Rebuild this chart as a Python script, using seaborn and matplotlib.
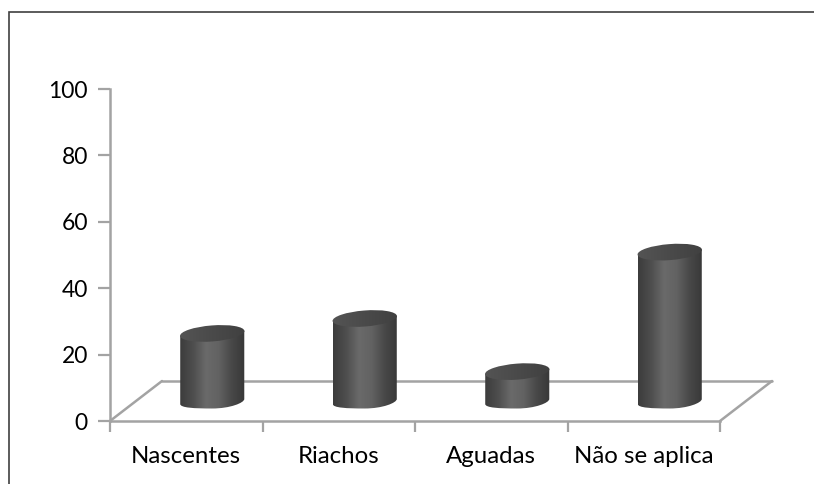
import numpy as np
import pandas as pd
import seaborn as sns
import matplotlib
matplotlib.use('Agg')
import matplotlib.pyplot as plt
from matplotlib.lines import Line2D
from matplotlib.patches import Ellipse, PathPatch, Rectangle
from matplotlib.path import Path
from matplotlib.colors import LinearSegmentedColormap
from matplotlib.transforms import IdentityTransform

categories = ['Nascentes', 'Riachos', 'Aguadas', 'Não se aplica']
values = [20.5, 25, 9, 45]
y_ticks = [0, 20, 40, 60, 80, 100]

W, H = 814, 484
GREY = '#a3a3a3'
# pixel box of the front plane of the fake 3d chart
LEFT, RIGHT, BOTTOM, TOP = 110, 720, 421, 89
DEPTH_X, DEPTH_Y = 52, 40

sns.set_theme(style='white')
plt.rcParams['font.family'] = ['Lato', 'DejaVu Sans']

fig = plt.figure(figsize=(W / 100, H / 100), dpi=100)

def box(dx=0, dy=0):
    return [(LEFT + dx) / W, (H - BOTTOM - dy) / H, (RIGHT - LEFT) / W, (BOTTOM - TOP) / H]

ax = fig.add_axes(box())
ax.patch.set_alpha(0)
df = pd.DataFrame({'cat': categories, 'val': values})

# front plane only carries the axis
ax.set_xlim(-0.5, 3.5)
ax.set_ylim(0, 100)
ax.set_yticks(y_ticks)
ax.set_xticks(np.arange(-0.5, 4, 1))
ax.set_xticklabels([])
ax.tick_params(axis='both', length=9, width=1.6, color=GREY, labelsize=16.5, labelcolor='black', pad=7)
ax.tick_params(axis='x', direction='out', length=8, bottom=True)
ax.tick_params(axis='y', left=True)
for s in ['top', 'right']:
    ax.spines[s].set_visible(False)
for s in ['left', 'bottom']:
    ax.spines[s].set_color(GREY)
    ax.spines[s].set_linewidth(1.8)
for i, c in enumerate(categories):
    ax.text(i, -0.107, c, ha='center', va='center', fontsize=17.3, color='black',
            transform=ax.get_xaxis_transform())

# floor of the 3d box
for xs, ys in [((LEFT, LEFT + DEPTH_X), (H - BOTTOM, H - BOTTOM + DEPTH_Y)),
               ((LEFT + DEPTH_X, RIGHT + DEPTH_X), (H - BOTTOM + DEPTH_Y, H - BOTTOM + DEPTH_Y)),
               ((RIGHT + DEPTH_X, RIGHT), (H - BOTTOM + DEPTH_Y, H - BOTTOM))]:
    fig.add_artist(Line2D([x / W for x in xs], [y / H for y in ys], color=GREY, lw=1.8, zorder=1))

# outer frame
fig.add_artist(Rectangle((8.5 / W, -0.01), 1.0, (H - 12.5) / H + 0.01, fill=False,
                         edgecolor='#404040', lw=1.2, zorder=0))

# cylinders stand half way into the depth of the box
ax2 = fig.add_axes(box(DEPTH_X / 2, -DEPTH_Y / 2 + 0.5), zorder=5)
ax2.patch.set_alpha(0)
sns.barplot(data=df, x='cat', y='val', ax=ax2, width=0.42, color='#555555', legend=False)
ax2.set_xlim(-0.5, 3.5)
ax2.set_ylim(0, 100)
ax2.axis('off')

side = LinearSegmentedColormap.from_list('side', ['#3c3c3c', '#4e4e4e', '#6a6a6a', '#626262', '#484848', '#383838'])
lid = LinearSegmentedColormap.from_list('lid', ['#545454', '#4a4a4a', '#404040'])
grad = np.linspace(0, 1, 128).reshape(1, -1)
TILT, LID_H = 5, 16

fig.canvas.draw()
for bar in list(ax2.patches):
    (x0, y0), (x1, y1) = ax2.transData.transform(bar.get_bbox().get_points())
    bar.set_visible(False)
    w = x1 - x0
    cx = (x0 + x1) / 2
    t = TILT / 2
    k = 0.5523
    b = LID_H / 2 - t * 0.4
    # body with a rounded, slightly tilted foot
    verts = [(x0, y1 - t), (x0, y0 - t),
             (x0, y0 - t - k * b), (cx - k * w / 2, y0 - b), (cx, y0 - b),
             (cx + k * w / 2, y0 - b), (x1, y0 + t - k * b), (x1, y0 + t),
             (x1, y1 + t), (x0, y1 - t)]
    codes = [Path.MOVETO, Path.LINETO, Path.CURVE4, Path.CURVE4, Path.CURVE4,
             Path.CURVE4, Path.CURVE4, Path.CURVE4, Path.LINETO, Path.CLOSEPOLY]
    clip = PathPatch(Path(verts, codes), transform=IdentityTransform(), fc='none', ec='none')
    ax2.add_patch(clip)
    im = ax2.imshow(grad, cmap=side, aspect='auto', extent=(x0, x1, y0 - LID_H, y1 + LID_H),
                    transform=IdentityTransform(), zorder=3)
    im.set_clip_box(fig.bbox)
    im.set_clip_path(clip)
    top = Ellipse((cx, y1), w + 0.5, LID_H, angle=np.degrees(np.arctan2(TILT, w)),
                  transform=IdentityTransform(), fc='none', ec='none')
    ax2.add_patch(top)
    im2 = ax2.imshow(grad, cmap=lid, aspect='auto', extent=(x0 - 1, x1 + 1, y1 - LID_H, y1 + LID_H),
                     transform=IdentityTransform(), zorder=4)
    im2.set_clip_box(fig.bbox)
    im2.set_clip_path(top)
ax2.set_xlim(-0.5, 3.5)
ax2.set_ylim(0, 100)

fig.savefig('out.png', dpi=100)
